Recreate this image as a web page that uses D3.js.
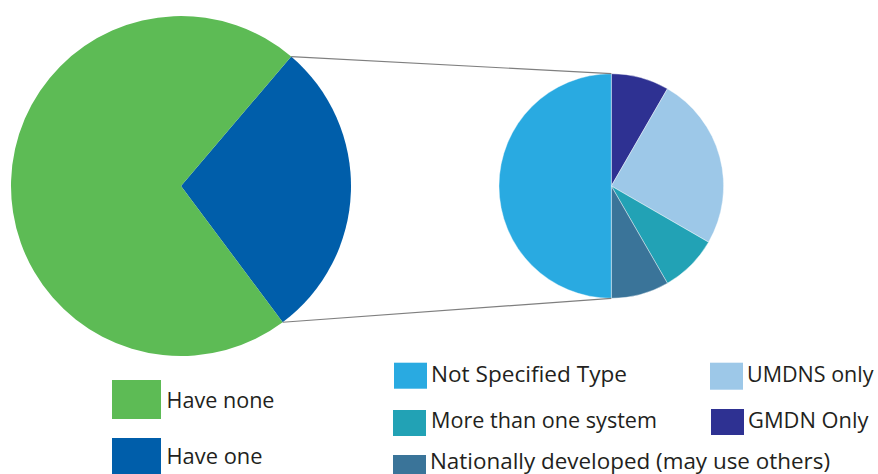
<!DOCTYPE html>
<html>
<head>
<meta charset="utf-8">
<script src="https://cdn.jsdelivr.net/npm/d3@7"></script>
<style>
  html, body { margin: 0; padding: 0; background: #ffffff; }
  svg { display: block; }
  text { font-family: "Open Sans", "DejaVu Sans", sans-serif; fill: #231f20; }
</style>
</head>
<body>
<svg id="chart" width="878" height="474"></svg>
<script>
// ---- Data ----
const mainCategories = ["Have none", "Have one"];
const mainValues = [30, 12];
const mainColors = ["#5dbb55", "#005eaa"];

const subCategories = ["GMDN Only", "UMDNS only", "More than one system", "Nationally developed (may use others)", "Not Specified Type"];
const subValues = [1, 3, 1, 1, 6];
const subColors = ["#2e3192", "#9dc8e8", "#22a2b5", "#3a7499", "#29aae1"];

// ---- Layout ----
const svg = d3.select("#chart");
const deg = Math.PI / 180;

const main = { cx: 181, cy: 186, r: 170 };
const sub = { cx: 611.3, cy: 186, r: 112.3 };

// main pie: "Have one" slice is placed first (split out to the right)
const mainData = [1, 0].map(i => ({ name: mainCategories[i], value: mainValues[i], color: mainColors[i] }));
const mainStart = 40.4 * deg;
const mainPie = d3.pie().value(d => d.value).sort(null)
  .startAngle(mainStart).endAngle(mainStart + 2 * Math.PI);
const mainArcs = mainPie(mainData);
const mainArc = d3.arc().innerRadius(0).outerRadius(main.r);

const gMain = svg.append("g").attr("transform", `translate(${main.cx},${main.cy})`);
gMain.selectAll("path").data(mainArcs).join("path")
  .attr("d", mainArc)
  .attr("fill", d => d.data.color);

// sub pie
const subData = subCategories.map((c, i) => ({ name: c, value: subValues[i], color: subColors[i] }));
const subPie = d3.pie().value(d => d.value).sort(null).startAngle(0).endAngle(2 * Math.PI);
const subArcs = subPie(subData);
const subArc = d3.arc().innerRadius(0).outerRadius(sub.r);

const gSub = svg.append("g").attr("transform", `translate(${sub.cx},${sub.cy})`);
gSub.selectAll("path").data(subArcs).join("path")
  .attr("d", subArc)
  .attr("fill", d => d.data.color)
  .attr("stroke", "#ffffff")
  .attr("stroke-width", 0.4);

// connector lines
const pt = (c, r, a) => [c.cx + r * Math.sin(a), c.cy - r * Math.cos(a)];
const oneArc = mainArcs[0];
const p1 = pt(main, main.r, oneArc.startAngle);
const p2 = pt(main, main.r, oneArc.endAngle);
const q1 = pt(sub, sub.r, 0);
const q2 = pt(sub, sub.r, Math.PI);
svg.append("line").attr("x1", p1[0]).attr("y1", p1[1]).attr("x2", q1[0]).attr("y2", q1[1])
  .attr("stroke", "#7f7f7f").attr("stroke-width", 1.2);
svg.append("line").attr("x1", p2[0]).attr("y1", p2[1]).attr("x2", q2[0]).attr("y2", q2[1])
  .attr("stroke", "#7f7f7f").attr("stroke-width", 1.2);

// ---- Legends ----
const fontSize = 21;
function legendItem(x, y, w, h, color, label, tx, baseline, textW) {
  svg.append("rect").attr("x", x).attr("y", y).attr("width", w).attr("height", h).attr("fill", color);
  const t = svg.append("text").attr("x", tx).attr("y", baseline)
    .attr("font-size", fontSize).text(label);
  if (textW) t.attr("textLength", textW).attr("lengthAdjust", "spacingAndGlyphs");
}

// main legend
legendItem(112, 380, 49, 39, mainColors[0], mainCategories[0], 166.5, 407.7, 108);
legendItem(112, 438, 49, 40, mainColors[1], mainCategories[1], 166.5, 464.3, 96);

// sub legend
const sIdx = name => subCategories.indexOf(name);
legendItem(394, 362.7, 33, 26, subColors[sIdx("Not Specified Type")], "Not Specified Type", 431, 381.7, 196);
legendItem(710, 362.7, 33, 27, subColors[sIdx("UMDNS only")], "UMDNS only", 747, 381.7, 126.5);
legendItem(393, 410, 33, 26, subColors[sIdx("More than one system")], "More than one system", 431, 427.7, 226);
legendItem(711, 409, 33, 26, subColors[sIdx("GMDN Only")], "GMDN Only", 748, 427.7, 120.5);
legendItem(393, 455, 33, 22, subColors[sIdx("Nationally developed (may use others)")], "Nationally developed (may use others)", 430, 468.5, 400);
</script>
</body>
</html>
